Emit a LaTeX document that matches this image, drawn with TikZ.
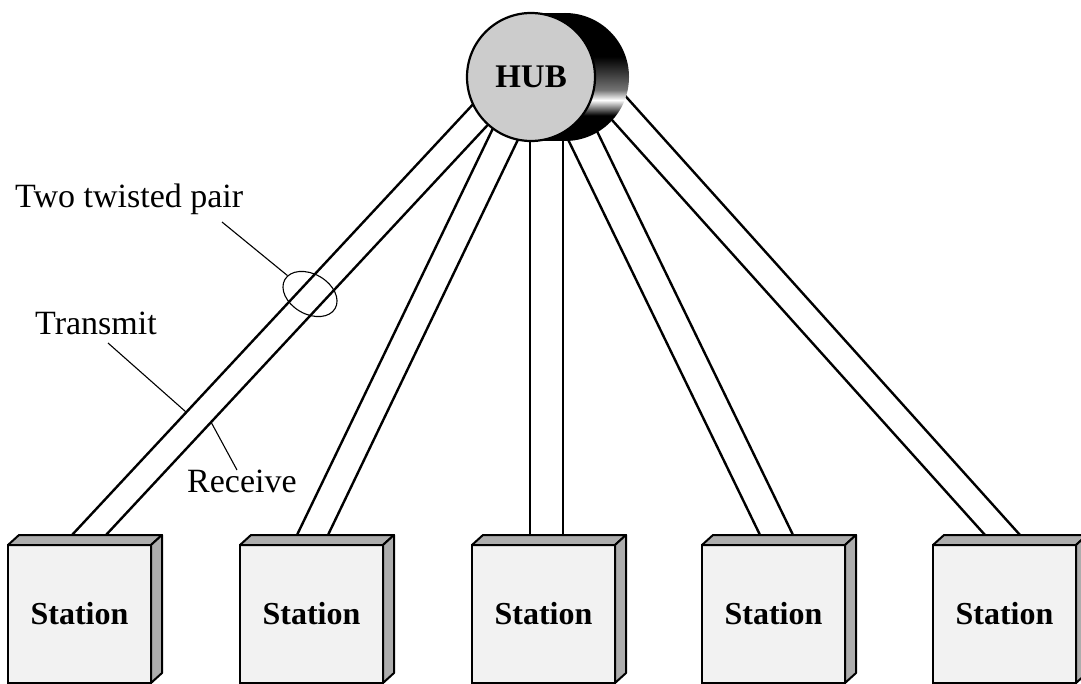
\documentclass[tikz,border=0pt]{standalone}
\usepackage{fontspec}
\setmainfont{Liberation Serif}
\usetikzlibrary{shapes.geometric}
\pgfdeclareverticalshading{hubshade}{100bp}{color(0bp)=(black); color(35bp)=(black); color(41bp)=(white); color(45bp)=(black!55); color(58bp)=(black); color(100bp)=(black)}
\begin{document}
\begin{tikzpicture}[x=1pt,y=-1pt,
  wire/.style={line width=2.4pt},
  ptr/.style={line width=1.1pt},
  lbl/.style={anchor=base west, inner sep=0pt, font=\fontsize{34}{40}\selectfont},
  stbox/.style={draw, line width=2.6pt, fill=black!5, minimum width=143pt, minimum height=138pt, inner sep=0pt, outer sep=0pt, font=\fontsize{32}{38}\selectfont\bfseries},
  face/.style={draw, line width=2pt, fill=black!32, line join=round}]
\useasboundingbox (0,0) rectangle (1081,684);
% wire end points
\coordinate (w1a0) at (72,535);  \coordinate (w1a1) at (477,100);
\coordinate (w1b0) at (106,535); \coordinate (w1b1) at (497,115);
\coordinate (w2a0) at (297,535); \coordinate (w2a1) at (497,120);
\coordinate (w2b0) at (328,535); \coordinate (w2b1) at (525,125);
\coordinate (w3a0) at (530,535); \coordinate (w3a1) at (530,120);
\coordinate (w3b0) at (563,535); \coordinate (w3b1) at (563,120);
\coordinate (w4a0) at (760,535); \coordinate (w4a1) at (561,125);
\coordinate (w4b0) at (793,535); \coordinate (w4b1) at (594,125);
\coordinate (w5a0) at (985,535); \coordinate (w5a1) at (603,110);
\coordinate (w5b0) at (1020,535);\coordinate (w5b1) at (620,90);
\foreach \i in {1,...,5}{
  \draw[wire] (w\i a0) -- (w\i a1);
  \draw[wire] (w\i b0) -- (w\i b1);
}
% hub
\fill[black] (531,13) rectangle (565,141);
\shade[shading=hubshade] (565,77) circle (64);
\node[circle, draw, line width=2.2pt, fill=black!20, minimum size=128pt, inner sep=0pt, outer sep=0pt, font=\fontsize{33}{40}\selectfont\bfseries] (hub) at (531,77) {HUB};
% stations
\foreach \L [count=\i] in {8,240,472,702,933}{
  \node[stbox] (s\i) at (\L+71.5,614) {Station};
  \draw[face] (s\i.north west) -- ++(11,-10) -- ([shift={(11,-10)}]s\i.north east) -- (s\i.north east) -- cycle;
  \draw[face] (s\i.north east) -- ++(11,-10) -- ([shift={(11,-10)}]s\i.south east) -- (s\i.south east) -- cycle;
}
% labels
\node[lbl] (ltp) at (15,208) {Two twisted pair};
\node[lbl] (ltx) at (35,335) {Transmit};
\node[lbl] (lrx) at (187,492) {Receive};
\node[draw, ellipse, ptr, minimum width=58pt, minimum height=40pt, inner sep=0pt, rotate=-30] (tp) at (310,294) {};
\coordinate (ptp) at (222,222);
\draw[ptr] (ptp) -- (tp);
\coordinate (ptx0) at (108,343); \coordinate (ptx1) at (186,412);
\draw[ptr] (ptx0) -- (ptx1);
\coordinate (prx0) at (211,422); \coordinate (prx1) at (237,470);
\draw[ptr] (prx0) -- (prx1);
\end{tikzpicture}
\end{document}
